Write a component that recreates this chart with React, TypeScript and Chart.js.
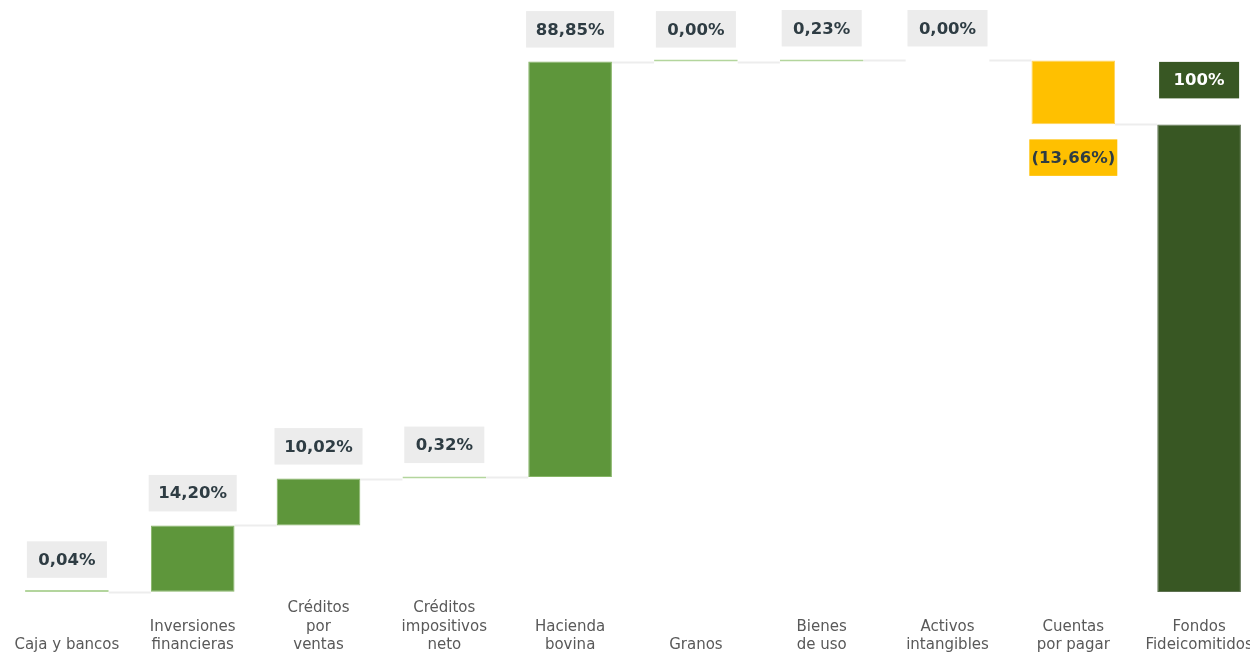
import { useEffect, useRef } from 'react';
import { Chart, registerables } from 'chart.js';

Chart.register(...registerables);

// Category labels (padded with empty lines so they sit on the bottom line)
const categories: string[][] = [
  ['', '', 'Caja y bancos'],
  ['', 'Inversiones', 'financieras'],
  ['Créditos', 'por', 'ventas'],
  ['Créditos', 'impositivos', 'neto'],
  ['', 'Hacienda', 'bovina'],
  ['', '', 'Granos'],
  ['', 'Bienes', 'de uso'],
  ['', 'Activos', 'intangibles'],
  ['', 'Cuentas', 'por pagar'],
  ['', 'Fondos', 'Fideicomitidos'],
];

// Waterfall steps (%), last category is the total
const changes: number[] = [0.04, 14.2, 10.02, 0.32, 88.85, 0.004, 0.23, 0, -13.66];
const totalValue = 100;
const totalLabel = '100%';

const COLOR_UP = '#5e963b';
const COLOR_UP_BORDER = '#86b566';
const COLOR_TINY = '#b3d59d';
const COLOR_DOWN = '#ffc000';
const COLOR_DOWN_BORDER = '#ffd45c';
const COLOR_TOTAL = '#385723';
const COLOR_TOTAL_BORDER = '#5d7150';

function fmt(v: number): string {
  const s = Math.abs(v).toFixed(2).replace('.', ',') + '%';
  return v < 0 ? '(' + s + ')' : s;
}

export default function App() {
  const ref = useRef<HTMLCanvasElement | null>(null);

  useEffect(() => {
    if (!ref.current) return;

    let cum = 0;
    const ranges: ([number, number] | null)[] = [];
    const levels: { lo: number; hi: number }[] = [];
    const ends: number[] = [];
    changes.forEach((v) => {
      const s = cum;
      cum += v;
      ranges.push(v === 0 ? null : [s, cum]);
      levels.push({ lo: Math.min(s, cum), hi: Math.max(s, cum) });
      ends.push(cum);
    });
    ranges.push([0, totalValue]);
    levels.push({ lo: 0, hi: totalValue });

    const bg = changes
      .map((v) => (v < 0 ? COLOR_DOWN : Math.abs(v) < 1 ? COLOR_TINY : COLOR_UP))
      .concat([COLOR_TOTAL]);
    const bd = changes
      .map((v) => (v < 0 ? COLOR_DOWN_BORDER : Math.abs(v) < 1 ? COLOR_TINY : COLOR_UP_BORDER))
      .concat([COLOR_TOTAL_BORDER]);
    const texts = changes.map(fmt).concat([totalLabel]);

    const connectors = {
      id: 'connectors',
      beforeDatasetsDraw(chart: any) {
        const ctx = chart.ctx;
        const xs = chart.scales.x;
        const ys = chart.scales.y;
        const bw = chart.getDatasetMeta(0).data[0].width;
        ctx.save();
        ctx.strokeStyle = '#ededed';
        ctx.lineWidth = 2;
        for (let i = 0; i < ends.length; i++) {
          const y = Math.round(ys.getPixelForValue(ends[i]));
          const x1 = xs.getPixelForValue(i) + bw / 2;
          const x2 = xs.getPixelForValue(i + 1) - bw / 2;
          ctx.beginPath();
          ctx.moveTo(x1, y + 0.5);
          ctx.lineTo(x2, y + 0.5);
          ctx.stroke();
        }
        ctx.restore();
      },
    };

    const valueLabels = {
      id: 'valueLabels',
      afterDatasetsDraw(chart: any) {
        const ctx = chart.ctx;
        const xs = chart.scales.x;
        const ys = chart.scales.y;
        ctx.save();
        ctx.font = 'bold 16.5px "DejaVu Sans"';
        ctx.textAlign = 'center';
        ctx.textBaseline = 'middle';
        const h = 36.5;
        texts.forEach((t, i) => {
          const x = xs.getPixelForValue(i);
          const isTotal = i === texts.length - 1;
          const isDown = !isTotal && changes[i] < 0;
          const w = Math.max(80, Math.min(88, ctx.measureText(t).width + 22));
          let top: number;
          if (isDown) {
            top = ys.getPixelForValue(levels[i].lo) + 15;
          } else {
            const gap = isTotal ? 26 : 14;
            top = ys.getPixelForValue(levels[i].hi) - gap - h;
          }
          ctx.fillStyle = isTotal ? COLOR_TOTAL : isDown ? COLOR_DOWN : '#ececec';
          ctx.fillRect(x - w / 2, top, w, h);
          ctx.fillStyle = isTotal ? '#ffffff' : '#2e3c43';
          ctx.fillText(t, x, top + h / 2 + 1);
        });
        ctx.restore();
      },
    };

    const chart = new Chart(ref.current, {
      type: 'bar',
      data: {
        labels: categories as any,
        datasets: [
          {
            data: ranges as any,
            backgroundColor: bg,
            borderColor: bd,
            borderWidth: 1,
            borderSkipped: false,
            minBarLength: 2,
            barPercentage: 0.665,
            categoryPercentage: 1,
          },
        ],
      },
      options: {
        animation: false,
        responsive: true,
        maintainAspectRatio: false,
        layout: { padding: 0 },
        plugins: {
          legend: { display: false },
          tooltip: { enabled: false },
        },
        scales: {
          x: {
            grid: { display: false, drawTicks: false },
            border: { display: false },
            ticks: {
              color: '#595959',
              font: { family: '"DejaVu Sans"', size: 15, lineHeight: 1.233 },
              padding: 7,
              maxRotation: 0,
              autoSkip: false,
            },
            afterFit: (s: any) => {
              s.height = 68;
            },
          },
          y: {
            display: false,
            min: 0,
            max: 126.6,
          },
        },
      },
      plugins: [connectors, valueLabels],
    });

    return () => chart.destroy();
  }, []);

  return (
    <div style={{ position: 'fixed', left: 4, top: 0, width: 1258, height: 660 }}>
      <canvas ref={ref} />
    </div>
  );
}
